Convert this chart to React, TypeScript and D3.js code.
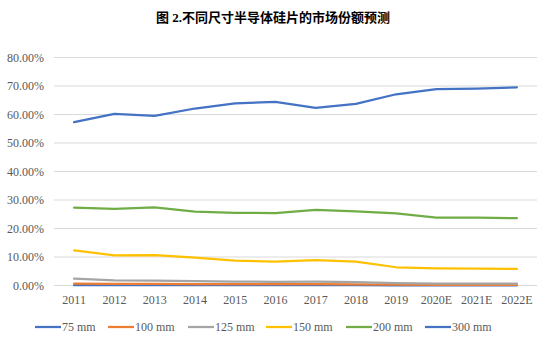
import React from "react";
import * as d3 from "d3";

const categories = ["2011", "2012", "2013", "2014", "2015", "2016", "2017", "2018", "2019", "2020E", "2021E", "2022E"];
const seriesNames = ["75 mm", "100 mm", "125 mm", "150 mm", "200 mm", "300 mm"];
const seriesColors = ["#4472C4", "#ED7D31", "#A5A5A5", "#FFC000", "#70AD47", "#4472C4"];
const s75 = [0.1, 0.1, 0.1, 0.1, 0.1, 0.1, 0.1, 0.1, 0.05, 0.05, 0.05, 0.05];
const s100 = [0.7, 0.6, 0.6, 0.5, 0.5, 0.5, 0.5, 0.4, 0.3, 0.2, 0.2, 0.2];
const s125 = [2.4, 1.8, 1.7, 1.5, 1.4, 1.3, 1.4, 1.2, 0.8, 0.7, 0.7, 0.7];
const s150 = [12.3, 10.6, 10.7, 9.8, 8.7, 8.4, 8.9, 8.4, 6.4, 6.0, 5.9, 5.8];
const s200 = [27.3, 26.9, 27.4, 25.9, 25.5, 25.4, 26.5, 26.0, 25.3, 23.8, 23.8, 23.6];
const s300 = [57.3, 60.2, 59.5, 62.1, 63.9, 64.4, 62.3, 63.7, 67.1, 68.9, 69.1, 69.5];
const yTicks = [0, 10, 20, 30, 40, 50, 60, 70, 80];
const title = "图 2.不同尺寸半导体硅片的市场份额预测";

const allSeries = [s75, s100, s125, s150, s200, s300];

export default function App() {
  const W = 546, H = 343;
  const left = 54, right = 537, top = 57.5, bottom = 285.5;
  const x = d3.scaleBand<string>().domain(categories).range([left, right]);
  const y = d3.scaleLinear().domain([0, 80]).range([bottom, top]);
  const line = d3.line<number>()
    .x((_, i) => (x(categories[i]) as number) + x.bandwidth() / 2)
    .y((d) => y(d));
  const font = "'Liberation Serif', 'Times New Roman', 'Noto Sans CJK SC', serif";
  const legendLineX = [35, 108, 188, 266, 346, 425];
  return (
    <svg width={W} height={H} style={{ position: "absolute", left: 0, top: 0, background: "#fff" }}>
      <text x={273} y={22} textAnchor="middle" fontFamily="'Liberation Serif', 'Noto Sans CJK SC', serif" fontWeight="bold" fontSize={13} fill="#000">
        {title}
      </text>
      {yTicks.map((t) => (
        <g key={t}>
          <line x1={left} x2={right} y1={y(t)} y2={y(t)} stroke="#D9D9D9" strokeWidth={1} />
          <text x={44} y={y(t) + 4} textAnchor="end" fontFamily={font} fontSize={12} fill="#595959">
            {t.toFixed(2) + "%"}
          </text>
        </g>
      ))}
      {categories.map((c) => (
        <text key={c} x={(x(c) as number) + x.bandwidth() / 2} y={304} textAnchor="middle" fontFamily={font} fontSize={12} fill="#595959">
          {c}
        </text>
      ))}
      {allSeries.map((s, i) => (
        <path key={i} d={line(s) || ""} fill="none" stroke={seriesColors[i]} strokeWidth={2.25} strokeLinejoin="round" strokeLinecap="round" />
      ))}
      {seriesNames.map((n, i) => (
        <g key={n}>
          <line x1={legendLineX[i]} x2={legendLineX[i] + 26} y1={327} y2={327} stroke={seriesColors[i]} strokeWidth={2.25} />
          <text x={legendLineX[i] + 27} y={331} fontFamily={font} fontSize={12} fill="#595959">
            {n}
          </text>
        </g>
      ))}
    </svg>
  );
}
